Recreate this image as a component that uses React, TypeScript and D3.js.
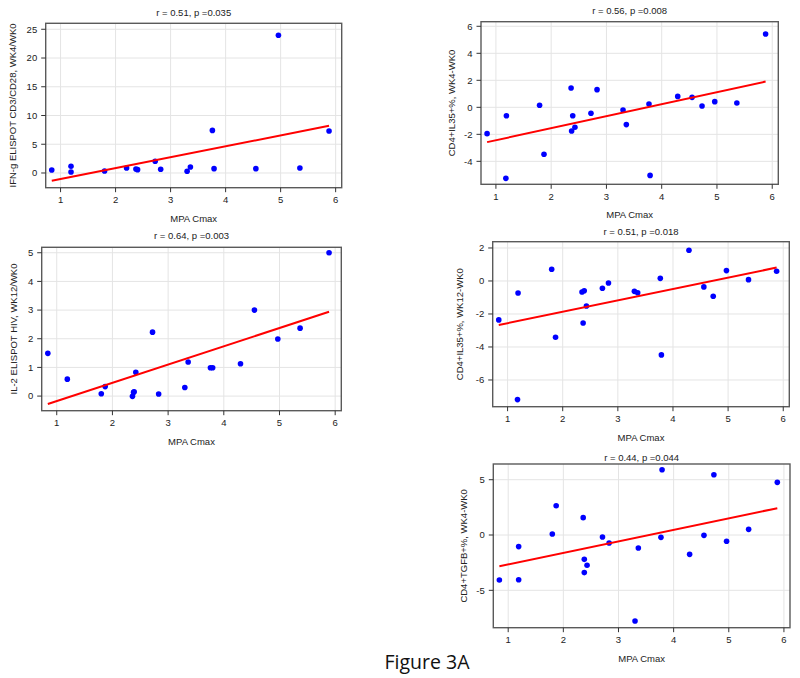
import React from "react";
import * as d3 from "d3";

// ---- data ----
const mpaCmax1 = [0.84, 1.19, 1.19, 1.8, 2.2, 2.37, 2.4, 2.72, 2.82, 3.3, 3.36, 3.76, 3.79, 4.55, 4.96, 5.35, 5.88];
const ifngWk4Wk0 = [0.52, 1.16, 0.17, 0.35, 0.87, 0.69, 0.58, 2.03, 0.64, 0.29, 1.04, 7.41, 0.75, 0.75, 23.97, 0.87, 7.3];

const mpaCmax2 = [0.84, 1.19, 1.18, 1.79, 1.87, 2.36, 2.37, 2.39, 2.43, 2.72, 2.83, 3.3, 3.36, 3.77, 3.79, 4.29, 4.55, 4.73, 4.96, 5.36, 5.88];
const il35Wk4Wk0 = [-1.95, -0.62, -5.26, 0.15, -3.48, 1.43, -1.75, -0.62, -1.48, -0.44, 1.31, -0.2, -1.28, 0.25, -5.04, 0.81, 0.74, 0.1, 0.42, 0.32, 5.43];

const mpaCmax3 = [0.84, 1.19, 1.8, 1.87, 2.36, 2.38, 2.39, 2.42, 2.72, 2.83, 3.3, 3.36, 3.76, 3.8, 4.3, 4.55, 4.97, 5.37, 5.89];
const il2Wk12Wk0 = [1.49, 0.59, 0.08, 0.33, -0.01, 0.13, 0.15, 0.83, 2.23, 0.07, 0.3, 1.19, 0.99, 0.99, 1.13, 3.0, 1.99, 2.37, 5.0];

const mpaCmax4 = [0.84, 1.19, 1.18, 1.8, 1.87, 2.35, 2.39, 2.37, 2.43, 2.72, 2.83, 3.3, 3.36, 3.77, 3.79, 4.29, 4.56, 4.73, 4.97, 5.37, 5.88];
const il35Wk12Wk0 = [-2.36, -0.73, -7.19, 0.71, -3.41, -0.67, -0.59, -2.55, -1.52, -0.44, -0.12, -0.63, -0.71, 0.16, -4.48, 1.86, -0.36, -0.93, 0.63, 0.08, 0.59];

const mpaCmax5 = [0.84, 1.19, 1.19, 1.8, 1.87, 2.36, 2.38, 2.38, 2.43, 2.71, 2.83, 3.3, 3.36, 3.77, 3.79, 4.29, 4.55, 4.73, 4.96, 5.36, 5.88];
const tgfbWk4Wk0 = [-4.07, -1.05, -4.04, 0.09, 2.65, 1.57, -2.2, -3.4, -2.74, -0.18, -0.72, -7.77, -1.17, -0.21, 5.9, -1.75, -0.03, 5.45, -0.57, 0.51, 4.76];

const xTicks = [1, 2, 3, 4, 5, 6];
const yTicks1 = [0, 5, 10, 15, 20, 25];
const yTicks2 = [-4, -2, 0, 2, 4, 6];
const yTicks3 = [0, 1, 2, 3, 4, 5];
const yTicks4 = [-6, -4, -2, 0, 2];
const yTicks5 = [-5, 0, 5];

const titles = ["r = 0.51, p =0.035", "r = 0.56, p =0.008", "r = 0.64, p =0.003", "r = 0.51, p =0.018", "r = 0.44, p =0.044"];
const yLabels = [
  "IFN-g ELISPOT CD3/CD28, WK4/WK0",
  "CD4+IL35+%, WK4-WK0",
  "IL-2 ELISPOT HIV, WK12/WK0",
  "CD4+IL35+%, WK12-WK0",
  "CD4+TGFB+%, WK4-WK0",
];
const xLabel = "MPA Cmax";
const figureLabel = "Figure 3A";

// ---- layout ----
type Panel = {
  xs: number[];
  ys: number[];
  yTicks: number[];
  yDomain: [number, number];
  l: number; r: number; t: number; b: number;
  yLabelOff: number;
  titleGap: number;
};

const xDomain: [number, number] = [0.73, 6.11];

const panels: Panel[] = [
  { xs: mpaCmax1, ys: ifngWk4Wk0, yTicks: yTicks1, yDomain: [-2.56, 26.04], l: 45.7, r: 341.7, t: 23.3, b: 187.7, yLabelOff: 33.5, titleGap: 7.5 },
  { xs: mpaCmax2, ys: il35Wk4Wk0, yTicks: yTicks2, yDomain: [-5.7, 6.34], l: 481, r: 778.3, t: 21.7, b: 184.3, yLabelOff: 29.5, titleGap: 8 },
  { xs: mpaCmax3, ys: il2Wk12Wk0, yTicks: yTicks3, yDomain: [-0.51, 5.19], l: 41.7, r: 341.3, t: 247.3, b: 410.7, yLabelOff: 28.7, titleGap: 8.5 },
  { xs: mpaCmax4, ys: il35Wk12Wk0, yTicks: yTicks4, yDomain: [-7.62, 2.38], l: 492.7, r: 789.3, t: 241.7, b: 406.7, yLabelOff: 33.7, titleGap: 7 },
  { xs: mpaCmax5, ys: tgfbWk4Wk0, yTicks: yTicks5, yDomain: [-8.38, 6.42], l: 493.3, r: 790, t: 464, b: 627.7, yLabelOff: 30.3, titleGap: 3.5 },
];

const FONT = "'Liberation Sans', Arial, sans-serif";

function PanelView({ p, i }: { p: Panel; i: number }) {
  const x = d3.scaleLinear().domain(xDomain).range([p.l, p.r]);
  const y = d3.scaleLinear().domain(p.yDomain).range([p.b, p.t]);
  const mx = d3.mean(p.xs)!;
  const my = d3.mean(p.ys)!;
  const sxy = d3.sum(p.xs, (v, k) => (v - mx) * (p.ys[k] - my));
  const sxx = d3.sum(p.xs, (v) => (v - mx) * (v - mx));
  const slope = sxy / sxx;
  const icpt = my - slope * mx;
  const [x0, x1] = d3.extent(p.xs) as [number, number];
  const fit = d3.line<number>().x((v) => x(v)).y((v) => y(icpt + slope * v));
  const cx = (p.l + p.r) / 2;
  const cy = (p.t + p.b) / 2;
  return (
    <g>
      {xTicks.map((t) => (
        <line key={"gx" + t} x1={x(t)} x2={x(t)} y1={p.t} y2={p.b} stroke="#e4e4e4" strokeWidth={1} />
      ))}
      {p.yTicks.map((t) => (
        <line key={"gy" + t} x1={p.l} x2={p.r} y1={y(t)} y2={y(t)} stroke="#e4e4e4" strokeWidth={1} />
      ))}
      <rect x={p.l} y={p.t} width={p.r - p.l} height={p.b - p.t} fill="none" stroke="#5a5a5a" strokeWidth={1.4} />
      {xTicks.map((t) => (
        <g key={"tx" + t}>
          <line x1={x(t)} x2={x(t)} y1={p.b} y2={p.b + 4.5} stroke="#333" strokeWidth={1} />
          <text x={x(t)} y={p.b + 15.5} textAnchor="middle" fontSize={9.5} fill="#222" fontFamily={FONT}>{t}</text>
        </g>
      ))}
      {p.yTicks.map((t) => (
        <g key={"ty" + t}>
          <line x1={p.l - 4.5} x2={p.l} y1={y(t)} y2={y(t)} stroke="#333" strokeWidth={1} />
          <text x={p.l - 8.5} y={y(t) + 3.4} textAnchor="end" fontSize={9.5} fill="#222" fontFamily={FONT}>{t}</text>
        </g>
      ))}
      {p.xs.map((v, k) => (
        <circle key={"pt" + k} cx={x(v)} cy={y(p.ys[k])} r={2.8} fill="#0000ff" />
      ))}
      <path d={fit([x0, x1]) || ""} stroke="#ff0000" strokeWidth={2} fill="none" />
      <text x={cx} y={p.t - p.titleGap} textAnchor="middle" fontSize={9.5} fill="#222" fontFamily={FONT}>{titles[i]}</text>
      <text x={cx} y={p.b + 34} textAnchor="middle" fontSize={9.5} fill="#222" fontFamily={FONT}>{xLabel}</text>
      <text
        transform={`translate(${p.l - p.yLabelOff},${cy}) rotate(-90)`}
        textAnchor="middle"
        dominantBaseline="central"
        fontSize={9.5}
        fill="#222"
        fontFamily={FONT}
      >
        {yLabels[i]}
      </text>
    </g>
  );
}

export default function App() {
  return (
    <svg
      width={800}
      height={678}
      viewBox="0 0 800 678"
      style={{ position: "absolute", left: 0, top: 0, background: "#fff" }}
    >
      <rect x={0} y={0} width={800} height={678} fill="#fff" />
      {panels.map((p, i) => (
        <PanelView key={i} p={p} i={i} />
      ))}
      <text x={427} y={669} textAnchor="middle" fontSize={19.5} fill="#111" fontFamily="'Open Sans', sans-serif">
        {figureLabel}
      </text>
    </svg>
  );
}
